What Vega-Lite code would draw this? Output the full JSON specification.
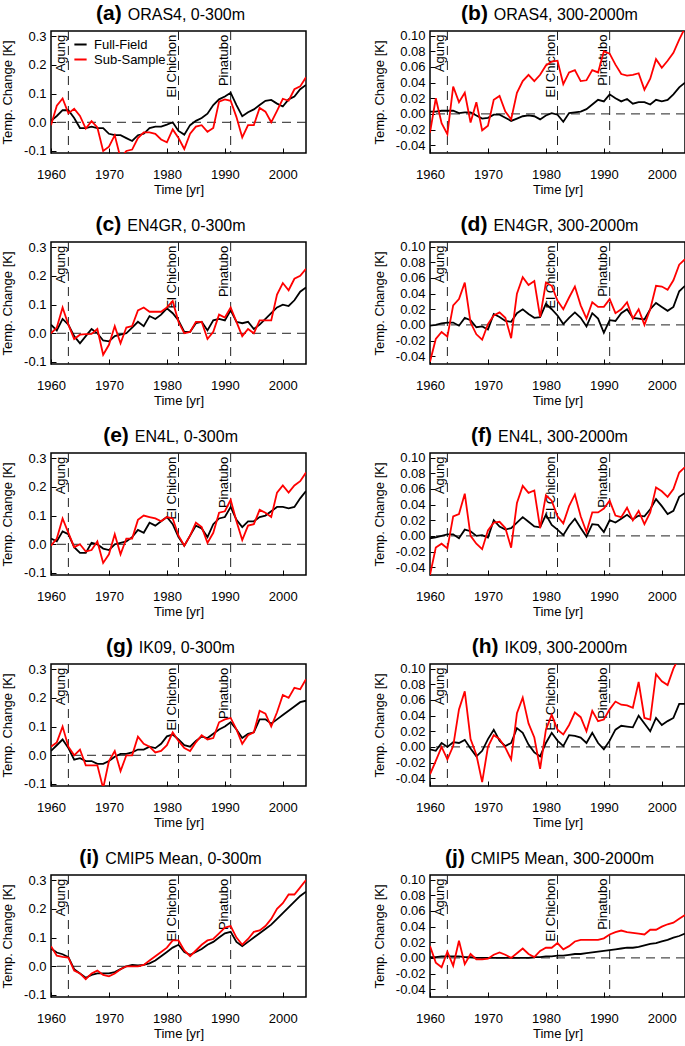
{
"$schema": "https://vega.github.io/schema/vega-lite/v6.json",
"background": "white",
"padding": {"left": 0, "top": 1, "right": 0, "bottom": 0},
"config": {
  "font": "Liberation Sans",
  "locale": {"number": {"decimal": ".", "thousands": ",", "grouping": [3], "currency": ["$", ""], "minus": "-"}},
  "view": {"stroke": "black", "strokeWidth": 1.5},
  "title": {"fontSize": 21, "fontWeight": "bold", "color": "black", "offset": 6, "frame": "group", "subtitleFontSize": 16, "subtitleColor": "black", "subtitleFontWeight": "normal", "subtitlePadding": -17},
  "axis": {"grid": false, "domain": false, "tickSize": -5, "tickColor": "black", "tickWidth": 1, "labelFontSize": 13, "titleFontSize": 13, "titleFontWeight": "normal", "labelColor": "black", "titleColor": "black", "labelFlush": false, "labelOverlap": false},
  "axisX": {"labelPadding": 20, "titlePadding": 2},
  "axisY": {"labelPadding": 10, "titlePadding": 9}
},
"datasets": {
"volc": [{"year": 1963, "name": "Agung"}, {"year": 1982, "name": "El Chichon"}, {"year": 1991, "name": "Pinatubo"}],
"zero": [{"v": 0}],
"a": [
{"year":1960,"Full-Field":0.005,"Sub-Sample":-0.01},{"year":1961,"Full-Field":0.022,"Sub-Sample":0.058},{"year":1962,"Full-Field":0.042,"Sub-Sample":0.083},{"year":1963,"Full-Field":0.042,"Sub-Sample":0.031},{"year":1964,"Full-Field":0.015,"Sub-Sample":0.047},{"year":1965,"Full-Field":-0.02,"Sub-Sample":0.022},{"year":1966,"Full-Field":-0.02,"Sub-Sample":-0.022},{"year":1967,"Full-Field":-0.015,"Sub-Sample":0.004},{"year":1968,"Full-Field":-0.02,"Sub-Sample":-0.018},{"year":1969,"Full-Field":-0.02,"Sub-Sample":-0.1},{"year":1970,"Full-Field":-0.04,"Sub-Sample":-0.085},{"year":1971,"Full-Field":-0.045,"Sub-Sample":-0.045},{"year":1972,"Full-Field":-0.045,"Sub-Sample":-0.125},{"year":1973,"Full-Field":-0.055,"Sub-Sample":-0.1},{"year":1974,"Full-Field":-0.065,"Sub-Sample":-0.095},{"year":1975,"Full-Field":-0.045,"Sub-Sample":-0.055},{"year":1976,"Full-Field":-0.04,"Sub-Sample":-0.035},{"year":1977,"Full-Field":-0.02,"Sub-Sample":-0.035},{"year":1978,"Full-Field":-0.015,"Sub-Sample":-0.04},{"year":1979,"Full-Field":-0.015,"Sub-Sample":-0.06},{"year":1980,"Full-Field":-0.008,"Sub-Sample":-0.07},{"year":1981,"Full-Field":0.0,"Sub-Sample":-0.025},{"year":1982,"Full-Field":-0.03,"Sub-Sample":-0.055},{"year":1983,"Full-Field":-0.043,"Sub-Sample":-0.093},{"year":1984,"Full-Field":-0.01,"Sub-Sample":-0.04},{"year":1985,"Full-Field":0.005,"Sub-Sample":-0.015},{"year":1986,"Full-Field":0.015,"Sub-Sample":-0.01},{"year":1987,"Full-Field":0.03,"Sub-Sample":-0.033},{"year":1988,"Full-Field":0.06,"Sub-Sample":-0.02},{"year":1989,"Full-Field":0.08,"Sub-Sample":0.072},{"year":1990,"Full-Field":0.09,"Sub-Sample":0.08},{"year":1991,"Full-Field":0.103,"Sub-Sample":0.075},{"year":1992,"Full-Field":0.06,"Sub-Sample":0.018},{"year":1993,"Full-Field":0.021,"Sub-Sample":-0.053},{"year":1994,"Full-Field":0.035,"Sub-Sample":-0.01},{"year":1995,"Full-Field":0.045,"Sub-Sample":-0.01},{"year":1996,"Full-Field":0.06,"Sub-Sample":0.05},{"year":1997,"Full-Field":0.075,"Sub-Sample":0.037},{"year":1998,"Full-Field":0.078,"Sub-Sample":0.0},{"year":1999,"Full-Field":0.065,"Sub-Sample":0.04},{"year":2000,"Full-Field":0.055,"Sub-Sample":0.082},{"year":2001,"Full-Field":0.08,"Sub-Sample":0.075},{"year":2002,"Full-Field":0.09,"Sub-Sample":0.115},{"year":2003,"Full-Field":0.115,"Sub-Sample":0.125},{"year":2004,"Full-Field":0.13,"Sub-Sample":0.157}],
"b": [
{"year":1960,"Full-Field":0.003,"Sub-Sample":-0.024},{"year":1961,"Full-Field":0.003,"Sub-Sample":0.02},{"year":1962,"Full-Field":0.004,"Sub-Sample":-0.012},{"year":1963,"Full-Field":0.004,"Sub-Sample":-0.026},{"year":1964,"Full-Field":0.004,"Sub-Sample":0.035},{"year":1965,"Full-Field":0.001,"Sub-Sample":0.015},{"year":1966,"Full-Field":0.002,"Sub-Sample":0.027},{"year":1967,"Full-Field":0.002,"Sub-Sample":-0.011},{"year":1968,"Full-Field":-0.002,"Sub-Sample":0.015},{"year":1969,"Full-Field":-0.006,"Sub-Sample":-0.021},{"year":1970,"Full-Field":-0.005,"Sub-Sample":-0.015},{"year":1971,"Full-Field":-0.001,"Sub-Sample":0.018},{"year":1972,"Full-Field":-0.001,"Sub-Sample":0.023},{"year":1973,"Full-Field":-0.005,"Sub-Sample":0.003},{"year":1974,"Full-Field":-0.009,"Sub-Sample":-0.007},{"year":1975,"Full-Field":-0.006,"Sub-Sample":0.027},{"year":1976,"Full-Field":-0.003,"Sub-Sample":0.042},{"year":1977,"Full-Field":-0.002,"Sub-Sample":0.05},{"year":1978,"Full-Field":-0.003,"Sub-Sample":0.042},{"year":1979,"Full-Field":-0.007,"Sub-Sample":0.05},{"year":1980,"Full-Field":-0.002,"Sub-Sample":0.062},{"year":1981,"Full-Field":0.001,"Sub-Sample":0.067},{"year":1982,"Full-Field":-0.001,"Sub-Sample":0.068},{"year":1983,"Full-Field":-0.01,"Sub-Sample":0.038},{"year":1984,"Full-Field":0.001,"Sub-Sample":0.053},{"year":1985,"Full-Field":0.002,"Sub-Sample":0.056},{"year":1986,"Full-Field":0.003,"Sub-Sample":0.042},{"year":1987,"Full-Field":0.006,"Sub-Sample":0.043},{"year":1988,"Full-Field":0.012,"Sub-Sample":0.056},{"year":1989,"Full-Field":0.018,"Sub-Sample":0.053},{"year":1990,"Full-Field":0.016,"Sub-Sample":0.08},{"year":1991,"Full-Field":0.025,"Sub-Sample":0.077},{"year":1992,"Full-Field":0.02,"Sub-Sample":0.063},{"year":1993,"Full-Field":0.016,"Sub-Sample":0.051},{"year":1994,"Full-Field":0.019,"Sub-Sample":0.049},{"year":1995,"Full-Field":0.013,"Sub-Sample":0.05},{"year":1996,"Full-Field":0.015,"Sub-Sample":0.052},{"year":1997,"Full-Field":0.015,"Sub-Sample":0.031},{"year":1998,"Full-Field":0.012,"Sub-Sample":0.045},{"year":1999,"Full-Field":0.018,"Sub-Sample":0.07},{"year":2000,"Full-Field":0.016,"Sub-Sample":0.059},{"year":2001,"Full-Field":0.018,"Sub-Sample":0.068},{"year":2002,"Full-Field":0.025,"Sub-Sample":0.078},{"year":2003,"Full-Field":0.034,"Sub-Sample":0.095},{"year":2004,"Full-Field":0.04,"Sub-Sample":0.11}],
"c": [
{"year":1960,"Full-Field":0.03,"Sub-Sample":0.0},{"year":1961,"Full-Field":0.01,"Sub-Sample":0.02},{"year":1962,"Full-Field":0.05,"Sub-Sample":0.09},{"year":1963,"Full-Field":0.03,"Sub-Sample":0.03},{"year":1964,"Full-Field":-0.01,"Sub-Sample":-0.02},{"year":1965,"Full-Field":-0.035,"Sub-Sample":-0.005},{"year":1966,"Full-Field":-0.01,"Sub-Sample":-0.003},{"year":1967,"Full-Field":0.015,"Sub-Sample":-0.002},{"year":1968,"Full-Field":0.0,"Sub-Sample":0.015},{"year":1969,"Full-Field":-0.025,"Sub-Sample":-0.075},{"year":1970,"Full-Field":-0.028,"Sub-Sample":-0.04},{"year":1971,"Full-Field":-0.01,"Sub-Sample":0.025},{"year":1972,"Full-Field":-0.005,"Sub-Sample":-0.035},{"year":1973,"Full-Field":0.0,"Sub-Sample":0.02},{"year":1974,"Full-Field":0.02,"Sub-Sample":0.025},{"year":1975,"Full-Field":0.04,"Sub-Sample":0.08},{"year":1976,"Full-Field":0.025,"Sub-Sample":0.09},{"year":1977,"Full-Field":0.06,"Sub-Sample":0.075},{"year":1978,"Full-Field":0.05,"Sub-Sample":0.075},{"year":1979,"Full-Field":0.065,"Sub-Sample":0.075},{"year":1980,"Full-Field":0.087,"Sub-Sample":0.09},{"year":1981,"Full-Field":0.07,"Sub-Sample":0.112},{"year":1982,"Full-Field":0.045,"Sub-Sample":0.04},{"year":1983,"Full-Field":0.005,"Sub-Sample":0.0},{"year":1984,"Full-Field":0.005,"Sub-Sample":0.005},{"year":1985,"Full-Field":0.035,"Sub-Sample":0.04},{"year":1986,"Full-Field":0.04,"Sub-Sample":0.04},{"year":1987,"Full-Field":0.01,"Sub-Sample":-0.02},{"year":1988,"Full-Field":0.045,"Sub-Sample":0.005},{"year":1989,"Full-Field":0.05,"Sub-Sample":0.065},{"year":1990,"Full-Field":0.045,"Sub-Sample":0.055},{"year":1991,"Full-Field":0.08,"Sub-Sample":0.09},{"year":1992,"Full-Field":0.04,"Sub-Sample":0.04},{"year":1993,"Full-Field":0.035,"Sub-Sample":-0.01},{"year":1994,"Full-Field":0.04,"Sub-Sample":0.015},{"year":1995,"Full-Field":0.015,"Sub-Sample":0.0},{"year":1996,"Full-Field":0.03,"Sub-Sample":0.045},{"year":1997,"Full-Field":0.05,"Sub-Sample":0.045},{"year":1998,"Full-Field":0.07,"Sub-Sample":0.045},{"year":1999,"Full-Field":0.09,"Sub-Sample":0.135},{"year":2000,"Full-Field":0.1,"Sub-Sample":0.175},{"year":2001,"Full-Field":0.095,"Sub-Sample":0.15},{"year":2002,"Full-Field":0.115,"Sub-Sample":0.19},{"year":2003,"Full-Field":0.145,"Sub-Sample":0.2},{"year":2004,"Full-Field":0.16,"Sub-Sample":0.225}],
"d": [
{"year":1960,"Full-Field":-0.001,"Sub-Sample":-0.047},{"year":1961,"Full-Field":0.0,"Sub-Sample":-0.018},{"year":1962,"Full-Field":0.002,"Sub-Sample":-0.009},{"year":1963,"Full-Field":0.003,"Sub-Sample":-0.015},{"year":1964,"Full-Field":0.003,"Sub-Sample":0.025},{"year":1965,"Full-Field":-0.001,"Sub-Sample":0.033},{"year":1966,"Full-Field":0.009,"Sub-Sample":0.054},{"year":1967,"Full-Field":0.006,"Sub-Sample":0.003},{"year":1968,"Full-Field":-0.003,"Sub-Sample":-0.012},{"year":1969,"Full-Field":-0.002,"Sub-Sample":-0.019},{"year":1970,"Full-Field":-0.006,"Sub-Sample":0.001},{"year":1971,"Full-Field":0.014,"Sub-Sample":0.012},{"year":1972,"Full-Field":0.01,"Sub-Sample":0.016},{"year":1973,"Full-Field":0.005,"Sub-Sample":0.009},{"year":1974,"Full-Field":0.004,"Sub-Sample":-0.017},{"year":1975,"Full-Field":0.015,"Sub-Sample":0.04},{"year":1976,"Full-Field":0.02,"Sub-Sample":0.061},{"year":1977,"Full-Field":0.014,"Sub-Sample":0.051},{"year":1978,"Full-Field":0.009,"Sub-Sample":0.056},{"year":1979,"Full-Field":0.01,"Sub-Sample":0.01},{"year":1980,"Full-Field":0.027,"Sub-Sample":0.054},{"year":1981,"Full-Field":0.02,"Sub-Sample":0.05},{"year":1982,"Full-Field":0.012,"Sub-Sample":0.031},{"year":1983,"Full-Field":0.001,"Sub-Sample":0.02},{"year":1984,"Full-Field":0.009,"Sub-Sample":0.035},{"year":1985,"Full-Field":0.016,"Sub-Sample":0.049},{"year":1986,"Full-Field":0.009,"Sub-Sample":0.025},{"year":1987,"Full-Field":-0.002,"Sub-Sample":0.008},{"year":1988,"Full-Field":0.015,"Sub-Sample":0.029},{"year":1989,"Full-Field":0.008,"Sub-Sample":0.023},{"year":1990,"Full-Field":-0.01,"Sub-Sample":0.023},{"year":1991,"Full-Field":0.006,"Sub-Sample":0.033},{"year":1992,"Full-Field":0.005,"Sub-Sample":0.015},{"year":1993,"Full-Field":0.015,"Sub-Sample":0.02},{"year":1994,"Full-Field":0.02,"Sub-Sample":0.029},{"year":1995,"Full-Field":0.009,"Sub-Sample":0.008},{"year":1996,"Full-Field":0.008,"Sub-Sample":0.02},{"year":1997,"Full-Field":0.007,"Sub-Sample":0.0},{"year":1998,"Full-Field":0.02,"Sub-Sample":0.02},{"year":1999,"Full-Field":0.028,"Sub-Sample":0.05},{"year":2000,"Full-Field":0.023,"Sub-Sample":0.049},{"year":2001,"Full-Field":0.018,"Sub-Sample":0.045},{"year":2002,"Full-Field":0.023,"Sub-Sample":0.057},{"year":2003,"Full-Field":0.043,"Sub-Sample":0.077},{"year":2004,"Full-Field":0.05,"Sub-Sample":0.084}],
"e": [
{"year":1960,"Full-Field":0.02,"Sub-Sample":-0.005},{"year":1961,"Full-Field":0.01,"Sub-Sample":0.02},{"year":1962,"Full-Field":0.045,"Sub-Sample":0.09},{"year":1963,"Full-Field":0.035,"Sub-Sample":0.04},{"year":1964,"Full-Field":-0.01,"Sub-Sample":-0.01},{"year":1965,"Full-Field":-0.03,"Sub-Sample":0.0},{"year":1966,"Full-Field":-0.03,"Sub-Sample":-0.025},{"year":1967,"Full-Field":0.005,"Sub-Sample":-0.02},{"year":1968,"Full-Field":0.0,"Sub-Sample":0.01},{"year":1969,"Full-Field":-0.015,"Sub-Sample":-0.065},{"year":1970,"Full-Field":-0.02,"Sub-Sample":-0.035},{"year":1971,"Full-Field":0.0,"Sub-Sample":0.035},{"year":1972,"Full-Field":0.005,"Sub-Sample":-0.035},{"year":1973,"Full-Field":0.01,"Sub-Sample":0.02},{"year":1974,"Full-Field":0.025,"Sub-Sample":0.02},{"year":1975,"Full-Field":0.05,"Sub-Sample":0.085},{"year":1976,"Full-Field":0.04,"Sub-Sample":0.1},{"year":1977,"Full-Field":0.075,"Sub-Sample":0.095},{"year":1978,"Full-Field":0.065,"Sub-Sample":0.09},{"year":1979,"Full-Field":0.08,"Sub-Sample":0.08},{"year":1980,"Full-Field":0.095,"Sub-Sample":0.095},{"year":1981,"Full-Field":0.07,"Sub-Sample":0.09},{"year":1982,"Full-Field":0.025,"Sub-Sample":0.03},{"year":1983,"Full-Field":-0.005,"Sub-Sample":-0.005},{"year":1984,"Full-Field":0.03,"Sub-Sample":0.03},{"year":1985,"Full-Field":0.065,"Sub-Sample":0.075},{"year":1986,"Full-Field":0.055,"Sub-Sample":0.06},{"year":1987,"Full-Field":0.025,"Sub-Sample":0.005},{"year":1988,"Full-Field":0.07,"Sub-Sample":0.04},{"year":1989,"Full-Field":0.09,"Sub-Sample":0.11},{"year":1990,"Full-Field":0.095,"Sub-Sample":0.115},{"year":1991,"Full-Field":0.13,"Sub-Sample":0.155},{"year":1992,"Full-Field":0.085,"Sub-Sample":0.08},{"year":1993,"Full-Field":0.06,"Sub-Sample":0.015},{"year":1994,"Full-Field":0.08,"Sub-Sample":0.065},{"year":1995,"Full-Field":0.08,"Sub-Sample":0.07},{"year":1996,"Full-Field":0.095,"Sub-Sample":0.12},{"year":1997,"Full-Field":0.1,"Sub-Sample":0.11},{"year":1998,"Full-Field":0.115,"Sub-Sample":0.095},{"year":1999,"Full-Field":0.13,"Sub-Sample":0.18},{"year":2000,"Full-Field":0.13,"Sub-Sample":0.205},{"year":2001,"Full-Field":0.125,"Sub-Sample":0.18},{"year":2002,"Full-Field":0.13,"Sub-Sample":0.205},{"year":2003,"Full-Field":0.16,"Sub-Sample":0.22},{"year":2004,"Full-Field":0.185,"Sub-Sample":0.25}],
"f": [
{"year":1960,"Full-Field":-0.003,"Sub-Sample":-0.05},{"year":1961,"Full-Field":-0.002,"Sub-Sample":-0.015},{"year":1962,"Full-Field":0.0,"Sub-Sample":-0.01},{"year":1963,"Full-Field":0.002,"Sub-Sample":-0.016},{"year":1964,"Full-Field":0.002,"Sub-Sample":0.025},{"year":1965,"Full-Field":-0.003,"Sub-Sample":0.028},{"year":1966,"Full-Field":0.008,"Sub-Sample":0.054},{"year":1967,"Full-Field":0.006,"Sub-Sample":0.0},{"year":1968,"Full-Field":0.0,"Sub-Sample":-0.01},{"year":1969,"Full-Field":0.001,"Sub-Sample":-0.017},{"year":1970,"Full-Field":-0.002,"Sub-Sample":0.007},{"year":1971,"Full-Field":0.02,"Sub-Sample":0.017},{"year":1972,"Full-Field":0.012,"Sub-Sample":0.018},{"year":1973,"Full-Field":0.008,"Sub-Sample":0.01},{"year":1974,"Full-Field":0.01,"Sub-Sample":-0.015},{"year":1975,"Full-Field":0.017,"Sub-Sample":0.042},{"year":1976,"Full-Field":0.024,"Sub-Sample":0.064},{"year":1977,"Full-Field":0.018,"Sub-Sample":0.055},{"year":1978,"Full-Field":0.012,"Sub-Sample":0.058},{"year":1979,"Full-Field":0.011,"Sub-Sample":0.01},{"year":1980,"Full-Field":0.027,"Sub-Sample":0.052},{"year":1981,"Full-Field":0.014,"Sub-Sample":0.045},{"year":1982,"Full-Field":0.008,"Sub-Sample":0.025},{"year":1983,"Full-Field":0.001,"Sub-Sample":0.016},{"year":1984,"Full-Field":0.013,"Sub-Sample":0.038},{"year":1985,"Full-Field":0.022,"Sub-Sample":0.053},{"year":1986,"Full-Field":0.01,"Sub-Sample":0.025},{"year":1987,"Full-Field":-0.001,"Sub-Sample":0.005},{"year":1988,"Full-Field":0.015,"Sub-Sample":0.03},{"year":1989,"Full-Field":0.014,"Sub-Sample":0.03},{"year":1990,"Full-Field":0.005,"Sub-Sample":0.035},{"year":1991,"Full-Field":0.02,"Sub-Sample":0.045},{"year":1992,"Full-Field":0.017,"Sub-Sample":0.026},{"year":1993,"Full-Field":0.022,"Sub-Sample":0.024},{"year":1994,"Full-Field":0.027,"Sub-Sample":0.036},{"year":1995,"Full-Field":0.021,"Sub-Sample":0.02},{"year":1996,"Full-Field":0.026,"Sub-Sample":0.032},{"year":1997,"Full-Field":0.025,"Sub-Sample":0.015},{"year":1998,"Full-Field":0.034,"Sub-Sample":0.03},{"year":1999,"Full-Field":0.047,"Sub-Sample":0.062},{"year":2000,"Full-Field":0.038,"Sub-Sample":0.057},{"year":2001,"Full-Field":0.028,"Sub-Sample":0.05},{"year":2002,"Full-Field":0.032,"Sub-Sample":0.06},{"year":2003,"Full-Field":0.05,"Sub-Sample":0.081},{"year":2004,"Full-Field":0.055,"Sub-Sample":0.088}],
"g": [
{"year":1960,"Full-Field":0.015,"Sub-Sample":0.03},{"year":1961,"Full-Field":0.035,"Sub-Sample":0.045},{"year":1962,"Full-Field":0.055,"Sub-Sample":0.1},{"year":1963,"Full-Field":0.025,"Sub-Sample":0.03},{"year":1964,"Full-Field":-0.015,"Sub-Sample":0.0},{"year":1965,"Full-Field":-0.01,"Sub-Sample":0.02},{"year":1966,"Full-Field":-0.02,"Sub-Sample":-0.035},{"year":1967,"Full-Field":-0.02,"Sub-Sample":-0.035},{"year":1968,"Full-Field":-0.03,"Sub-Sample":-0.035},{"year":1969,"Full-Field":-0.03,"Sub-Sample":-0.115},{"year":1970,"Full-Field":-0.02,"Sub-Sample":-0.02},{"year":1971,"Full-Field":-0.005,"Sub-Sample":0.015},{"year":1972,"Full-Field":0.005,"Sub-Sample":-0.055},{"year":1973,"Full-Field":0.005,"Sub-Sample":0.0},{"year":1974,"Full-Field":0.01,"Sub-Sample":0.0},{"year":1975,"Full-Field":0.02,"Sub-Sample":0.065},{"year":1976,"Full-Field":0.02,"Sub-Sample":0.04},{"year":1977,"Full-Field":0.03,"Sub-Sample":0.03},{"year":1978,"Full-Field":0.025,"Sub-Sample":0.01},{"year":1979,"Full-Field":0.04,"Sub-Sample":0.015},{"year":1980,"Full-Field":0.066,"Sub-Sample":0.035},{"year":1981,"Full-Field":0.072,"Sub-Sample":0.08},{"year":1982,"Full-Field":0.055,"Sub-Sample":0.05},{"year":1983,"Full-Field":0.035,"Sub-Sample":0.025},{"year":1984,"Full-Field":0.03,"Sub-Sample":0.015},{"year":1985,"Full-Field":0.05,"Sub-Sample":0.045},{"year":1986,"Full-Field":0.065,"Sub-Sample":0.07},{"year":1987,"Full-Field":0.06,"Sub-Sample":0.055},{"year":1988,"Full-Field":0.075,"Sub-Sample":0.06},{"year":1989,"Full-Field":0.09,"Sub-Sample":0.115},{"year":1990,"Full-Field":0.1,"Sub-Sample":0.125},{"year":1991,"Full-Field":0.115,"Sub-Sample":0.13},{"year":1992,"Full-Field":0.09,"Sub-Sample":0.09},{"year":1993,"Full-Field":0.06,"Sub-Sample":0.04},{"year":1994,"Full-Field":0.075,"Sub-Sample":0.07},{"year":1995,"Full-Field":0.08,"Sub-Sample":0.08},{"year":1996,"Full-Field":0.125,"Sub-Sample":0.155},{"year":1997,"Full-Field":0.125,"Sub-Sample":0.145},{"year":1998,"Full-Field":0.11,"Sub-Sample":0.1},{"year":1999,"Full-Field":0.125,"Sub-Sample":0.15},{"year":2000,"Full-Field":0.14,"Sub-Sample":0.21},{"year":2001,"Full-Field":0.155,"Sub-Sample":0.2},{"year":2002,"Full-Field":0.17,"Sub-Sample":0.235},{"year":2003,"Full-Field":0.185,"Sub-Sample":0.23},{"year":2004,"Full-Field":0.19,"Sub-Sample":0.265}],
"h": [
{"year":1960,"Full-Field":-0.003,"Sub-Sample":-0.035},{"year":1961,"Full-Field":-0.005,"Sub-Sample":-0.018},{"year":1962,"Full-Field":0.005,"Sub-Sample":0.0},{"year":1963,"Full-Field":0.0,"Sub-Sample":-0.016},{"year":1964,"Full-Field":0.006,"Sub-Sample":0.001},{"year":1965,"Full-Field":0.005,"Sub-Sample":0.048},{"year":1966,"Full-Field":0.009,"Sub-Sample":0.071},{"year":1967,"Full-Field":-0.002,"Sub-Sample":0.01},{"year":1968,"Full-Field":-0.012,"Sub-Sample":-0.01},{"year":1969,"Full-Field":-0.005,"Sub-Sample":-0.045},{"year":1970,"Full-Field":0.01,"Sub-Sample":0.0},{"year":1971,"Full-Field":0.022,"Sub-Sample":0.015},{"year":1972,"Full-Field":0.008,"Sub-Sample":0.01},{"year":1973,"Full-Field":0.001,"Sub-Sample":-0.001},{"year":1974,"Full-Field":0.005,"Sub-Sample":-0.016},{"year":1975,"Full-Field":0.024,"Sub-Sample":0.043},{"year":1976,"Full-Field":0.018,"Sub-Sample":0.063},{"year":1977,"Full-Field":0.003,"Sub-Sample":0.03},{"year":1978,"Full-Field":-0.007,"Sub-Sample":0.012},{"year":1979,"Full-Field":-0.012,"Sub-Sample":-0.028},{"year":1980,"Full-Field":0.005,"Sub-Sample":0.022},{"year":1981,"Full-Field":0.018,"Sub-Sample":0.041},{"year":1982,"Full-Field":0.008,"Sub-Sample":0.022},{"year":1983,"Full-Field":0.001,"Sub-Sample":0.016},{"year":1984,"Full-Field":0.015,"Sub-Sample":0.028},{"year":1985,"Full-Field":0.014,"Sub-Sample":0.044},{"year":1986,"Full-Field":0.012,"Sub-Sample":0.038},{"year":1987,"Full-Field":0.005,"Sub-Sample":0.02},{"year":1988,"Full-Field":0.018,"Sub-Sample":0.046},{"year":1989,"Full-Field":0.005,"Sub-Sample":0.033},{"year":1990,"Full-Field":-0.003,"Sub-Sample":0.035},{"year":1991,"Full-Field":0.008,"Sub-Sample":0.048},{"year":1992,"Full-Field":0.022,"Sub-Sample":0.058},{"year":1993,"Full-Field":0.027,"Sub-Sample":0.054},{"year":1994,"Full-Field":0.026,"Sub-Sample":0.053},{"year":1995,"Full-Field":0.025,"Sub-Sample":0.05},{"year":1996,"Full-Field":0.04,"Sub-Sample":0.083},{"year":1997,"Full-Field":0.03,"Sub-Sample":0.037},{"year":1998,"Full-Field":0.02,"Sub-Sample":0.035},{"year":1999,"Full-Field":0.037,"Sub-Sample":0.093},{"year":2000,"Full-Field":0.028,"Sub-Sample":0.084},{"year":2001,"Full-Field":0.033,"Sub-Sample":0.079},{"year":2002,"Full-Field":0.037,"Sub-Sample":0.1},{"year":2003,"Full-Field":0.055,"Sub-Sample":0.115},{"year":2004,"Full-Field":0.055,"Sub-Sample":0.12}],
"i": [
{"year":1960,"Full-Field":0.062,"Sub-Sample":0.07},{"year":1961,"Full-Field":0.048,"Sub-Sample":0.037},{"year":1962,"Full-Field":0.042,"Sub-Sample":0.033},{"year":1963,"Full-Field":0.032,"Sub-Sample":0.03},{"year":1964,"Full-Field":-0.01,"Sub-Sample":-0.015},{"year":1965,"Full-Field":-0.025,"Sub-Sample":-0.025},{"year":1966,"Full-Field":-0.04,"Sub-Sample":-0.045},{"year":1967,"Full-Field":-0.03,"Sub-Sample":-0.025},{"year":1968,"Full-Field":-0.025,"Sub-Sample":-0.015},{"year":1969,"Full-Field":-0.025,"Sub-Sample":-0.03},{"year":1970,"Full-Field":-0.025,"Sub-Sample":-0.035},{"year":1971,"Full-Field":-0.02,"Sub-Sample":-0.025},{"year":1972,"Full-Field":-0.01,"Sub-Sample":-0.01},{"year":1973,"Full-Field":0.0,"Sub-Sample":0.0},{"year":1974,"Full-Field":0.005,"Sub-Sample":0.0},{"year":1975,"Full-Field":0.003,"Sub-Sample":0.0},{"year":1976,"Full-Field":0.005,"Sub-Sample":0.005},{"year":1977,"Full-Field":0.01,"Sub-Sample":0.02},{"year":1978,"Full-Field":0.02,"Sub-Sample":0.035},{"year":1979,"Full-Field":0.035,"Sub-Sample":0.05},{"year":1980,"Full-Field":0.05,"Sub-Sample":0.065},{"year":1981,"Full-Field":0.065,"Sub-Sample":0.09},{"year":1982,"Full-Field":0.075,"Sub-Sample":0.09},{"year":1983,"Full-Field":0.05,"Sub-Sample":0.055},{"year":1984,"Full-Field":0.04,"Sub-Sample":0.035},{"year":1985,"Full-Field":0.05,"Sub-Sample":0.055},{"year":1986,"Full-Field":0.06,"Sub-Sample":0.075},{"year":1987,"Full-Field":0.075,"Sub-Sample":0.09},{"year":1988,"Full-Field":0.085,"Sub-Sample":0.095},{"year":1989,"Full-Field":0.1,"Sub-Sample":0.115},{"year":1990,"Full-Field":0.115,"Sub-Sample":0.135},{"year":1991,"Full-Field":0.12,"Sub-Sample":0.14},{"year":1992,"Full-Field":0.085,"Sub-Sample":0.1},{"year":1993,"Full-Field":0.07,"Sub-Sample":0.075},{"year":1994,"Full-Field":0.085,"Sub-Sample":0.095},{"year":1995,"Full-Field":0.1,"Sub-Sample":0.12},{"year":1996,"Full-Field":0.115,"Sub-Sample":0.125},{"year":1997,"Full-Field":0.13,"Sub-Sample":0.14},{"year":1998,"Full-Field":0.145,"Sub-Sample":0.165},{"year":1999,"Full-Field":0.165,"Sub-Sample":0.2},{"year":2000,"Full-Field":0.185,"Sub-Sample":0.22},{"year":2001,"Full-Field":0.205,"Sub-Sample":0.25},{"year":2002,"Full-Field":0.225,"Sub-Sample":0.25},{"year":2003,"Full-Field":0.245,"Sub-Sample":0.275},{"year":2004,"Full-Field":0.26,"Sub-Sample":0.3}],
"j": [
{"year":1960,"Full-Field":0.001,"Sub-Sample":0.015},{"year":1961,"Full-Field":0.001,"Sub-Sample":-0.006},{"year":1962,"Full-Field":0.002,"Sub-Sample":-0.012},{"year":1963,"Full-Field":0.002,"Sub-Sample":0.008},{"year":1964,"Full-Field":0.002,"Sub-Sample":-0.01},{"year":1965,"Full-Field":0.002,"Sub-Sample":0.022},{"year":1966,"Full-Field":0.001,"Sub-Sample":-0.008},{"year":1967,"Full-Field":0.001,"Sub-Sample":0.005},{"year":1968,"Full-Field":0.0,"Sub-Sample":-0.002},{"year":1969,"Full-Field":0.0,"Sub-Sample":-0.002},{"year":1970,"Full-Field":0.0,"Sub-Sample":-0.001},{"year":1971,"Full-Field":0.0,"Sub-Sample":0.004},{"year":1972,"Full-Field":0.0,"Sub-Sample":0.007},{"year":1973,"Full-Field":0.0,"Sub-Sample":0.004},{"year":1974,"Full-Field":0.0,"Sub-Sample":0.0},{"year":1975,"Full-Field":0.0,"Sub-Sample":0.006},{"year":1976,"Full-Field":0.0,"Sub-Sample":0.012},{"year":1977,"Full-Field":0.0,"Sub-Sample":0.005},{"year":1978,"Full-Field":0.001,"Sub-Sample":0.001},{"year":1979,"Full-Field":0.001,"Sub-Sample":0.009},{"year":1980,"Full-Field":0.002,"Sub-Sample":0.013},{"year":1981,"Full-Field":0.002,"Sub-Sample":0.013},{"year":1982,"Full-Field":0.003,"Sub-Sample":0.019},{"year":1983,"Full-Field":0.003,"Sub-Sample":0.011},{"year":1984,"Full-Field":0.004,"Sub-Sample":0.015},{"year":1985,"Full-Field":0.005,"Sub-Sample":0.021},{"year":1986,"Full-Field":0.005,"Sub-Sample":0.023},{"year":1987,"Full-Field":0.006,"Sub-Sample":0.023},{"year":1988,"Full-Field":0.007,"Sub-Sample":0.023},{"year":1989,"Full-Field":0.008,"Sub-Sample":0.023},{"year":1990,"Full-Field":0.009,"Sub-Sample":0.025},{"year":1991,"Full-Field":0.01,"Sub-Sample":0.03},{"year":1992,"Full-Field":0.011,"Sub-Sample":0.033},{"year":1993,"Full-Field":0.012,"Sub-Sample":0.035},{"year":1994,"Full-Field":0.013,"Sub-Sample":0.033},{"year":1995,"Full-Field":0.013,"Sub-Sample":0.032},{"year":1996,"Full-Field":0.014,"Sub-Sample":0.031},{"year":1997,"Full-Field":0.016,"Sub-Sample":0.03},{"year":1998,"Full-Field":0.018,"Sub-Sample":0.036},{"year":1999,"Full-Field":0.019,"Sub-Sample":0.036},{"year":2000,"Full-Field":0.021,"Sub-Sample":0.04},{"year":2001,"Full-Field":0.023,"Sub-Sample":0.043},{"year":2002,"Full-Field":0.026,"Sub-Sample":0.045},{"year":2003,"Full-Field":0.028,"Sub-Sample":0.05},{"year":2004,"Full-Field":0.031,"Sub-Sample":0.055}]
},
"columns": 2,
"align": "each",
"spacing": {"row": 15, "column": 64},
"resolve": {"scale": {"color": "independent", "x": "independent", "y": "independent"}, "legend": {"color": "independent"}},
"concat": [
{"title": {"text": "(a)", "subtitle": "ORAS4, 0-300m", "dx": 7.9, "encoding": {"dx": {"value": -69.7}}}, "width": 255, "height": 122, "layer": [
 {"data": {"name": "volc"}, "mark": {"type": "rule", "strokeDash": [9, 6], "strokeWidth": 1, "color": "#222"}, "encoding": {"x": {"field": "year", "type": "quantitative", "scale": {"domain": [1960, 2004], "nice": false, "zero": false}}}},
 {"data": {"name": "volc"}, "mark": {"type": "text", "angle": 270, "align": "right", "baseline": "bottom", "fontSize": 13, "color": "black"}, "encoding": {"x": {"field": "year", "type": "quantitative", "scale": {"domain": [1960, 2004], "nice": false, "zero": false}}, "y": {"datum": 0.305, "type": "quantitative", "scale": {"domain": [-0.107, 0.318], "nice": false, "zero": false}}, "text": {"field": "name"}}},
 {"data": {"name": "zero"}, "mark": {"type": "rule", "strokeDash": [9, 6], "strokeWidth": 1, "color": "#222"}, "encoding": {"y": {"field": "v", "type": "quantitative", "scale": {"domain": [-0.107, 0.318], "nice": false, "zero": false}}}},
 {"data": {"name": "a"}, "transform": [{"fold": ["Full-Field", "Sub-Sample"], "as": ["series", "v"]}], "mark": {"type": "line", "strokeWidth": 1.8, "clip": true},
  "encoding": {
   "x": {"field": "year", "type": "quantitative", "scale": {"domain": [1960, 2004], "nice": false, "zero": false}, "axis": {"title": "Time [yr]", "values": [1960, 1970, 1980, 1990, 2000], "tickCount": 20, "format": "d", "labelFlush": false, "labelOverlap": false}},
   "y": {"field": "v", "type": "quantitative", "scale": {"domain": [-0.107, 0.318], "nice": false, "zero": false}, "axis": {"title": "Temp. Change [K]", "values": [-0.1, 0, 0.1, 0.2, 0.3], "tickCount": 20, "format": ".1f", "labelFlush": false, "labelOverlap": false}},
   "color": {"field": "series", "type": "nominal", "scale": {"domain": ["Full-Field", "Sub-Sample"], "range": ["black", "red"]}, "legend": {"orient": "none", "legendX": 22, "legendY": 6, "title": null, "symbolType": "stroke", "symbolStrokeWidth": 2, "symbolSize": 150, "labelFontSize": 13, "rowPadding": -1, "labelOffset": 6, "padding": 0, "labelColor": "black"}}
  }}
]},
{"title": {"text": "(b)", "subtitle": "ORAS4, 300-2000m", "dx": 8.4, "encoding": {"dx": {"value": -83}}}, "width": 255, "height": 122, "layer": [
 {"data": {"name": "volc"}, "mark": {"type": "rule", "strokeDash": [9, 6], "strokeWidth": 1, "color": "#222"}, "encoding": {"x": {"field": "year", "type": "quantitative", "scale": {"domain": [1960, 2004], "nice": false, "zero": false}}}},
 {"data": {"name": "volc"}, "mark": {"type": "text", "angle": 270, "align": "right", "baseline": "bottom", "fontSize": 13, "color": "black"}, "encoding": {"x": {"field": "year", "type": "quantitative", "scale": {"domain": [1960, 2004], "nice": false, "zero": false}}, "y": {"datum": 0.1015, "type": "quantitative", "scale": {"domain": [-0.05, 0.106], "nice": false, "zero": false}}, "text": {"field": "name"}}},
 {"data": {"name": "zero"}, "mark": {"type": "rule", "strokeDash": [9, 6], "strokeWidth": 1, "color": "#222"}, "encoding": {"y": {"field": "v", "type": "quantitative", "scale": {"domain": [-0.05, 0.106], "nice": false, "zero": false}}}},
 {"data": {"name": "b"}, "transform": [{"fold": ["Full-Field", "Sub-Sample"], "as": ["series", "v"]}], "mark": {"type": "line", "strokeWidth": 1.8, "clip": true},
  "encoding": {
   "x": {"field": "year", "type": "quantitative", "scale": {"domain": [1960, 2004], "nice": false, "zero": false}, "axis": {"title": "Time [yr]", "values": [1960, 1970, 1980, 1990, 2000], "tickCount": 20, "format": "d", "labelFlush": false, "labelOverlap": false}},
   "y": {"field": "v", "type": "quantitative", "scale": {"domain": [-0.05, 0.106], "nice": false, "zero": false}, "axis": {"title": "Temp. Change [K]", "values": [-0.04, -0.02, 0, 0.02, 0.04, 0.06, 0.08, 0.1], "tickCount": 20, "format": ".2f", "labelFlush": false, "labelOverlap": false}},
   "color": {"field": "series", "type": "nominal", "scale": {"domain": ["Full-Field", "Sub-Sample"], "range": ["black", "red"]}, "legend": null}
  }}
]},
{"title": {"text": "(c)", "subtitle": "EN4GR, 0-300m", "dx": 7.9, "encoding": {"dx": {"value": -70.2}}}, "width": 255, "height": 122, "layer": [
 {"data": {"name": "volc"}, "mark": {"type": "rule", "strokeDash": [9, 6], "strokeWidth": 1, "color": "#222"}, "encoding": {"x": {"field": "year", "type": "quantitative", "scale": {"domain": [1960, 2004], "nice": false, "zero": false}}}},
 {"data": {"name": "volc"}, "mark": {"type": "text", "angle": 270, "align": "right", "baseline": "bottom", "fontSize": 13, "color": "black"}, "encoding": {"x": {"field": "year", "type": "quantitative", "scale": {"domain": [1960, 2004], "nice": false, "zero": false}}, "y": {"datum": 0.305, "type": "quantitative", "scale": {"domain": [-0.107, 0.318], "nice": false, "zero": false}}, "text": {"field": "name"}}},
 {"data": {"name": "zero"}, "mark": {"type": "rule", "strokeDash": [9, 6], "strokeWidth": 1, "color": "#222"}, "encoding": {"y": {"field": "v", "type": "quantitative", "scale": {"domain": [-0.107, 0.318], "nice": false, "zero": false}}}},
 {"data": {"name": "c"}, "transform": [{"fold": ["Full-Field", "Sub-Sample"], "as": ["series", "v"]}], "mark": {"type": "line", "strokeWidth": 1.8, "clip": true},
  "encoding": {
   "x": {"field": "year", "type": "quantitative", "scale": {"domain": [1960, 2004], "nice": false, "zero": false}, "axis": {"title": "Time [yr]", "values": [1960, 1970, 1980, 1990, 2000], "tickCount": 20, "format": "d", "labelFlush": false, "labelOverlap": false}},
   "y": {"field": "v", "type": "quantitative", "scale": {"domain": [-0.107, 0.318], "nice": false, "zero": false}, "axis": {"title": "Temp. Change [K]", "values": [-0.1, 0, 0.1, 0.2, 0.3], "tickCount": 20, "format": ".1f", "labelFlush": false, "labelOverlap": false}},
   "color": {"field": "series", "type": "nominal", "scale": {"domain": ["Full-Field", "Sub-Sample"], "range": ["black", "red"]}, "legend": null}
  }}
]},
{"title": {"text": "(d)", "subtitle": "EN4GR, 300-2000m", "dx": 8.4, "encoding": {"dx": {"value": -83.5}}}, "width": 255, "height": 122, "layer": [
 {"data": {"name": "volc"}, "mark": {"type": "rule", "strokeDash": [9, 6], "strokeWidth": 1, "color": "#222"}, "encoding": {"x": {"field": "year", "type": "quantitative", "scale": {"domain": [1960, 2004], "nice": false, "zero": false}}}},
 {"data": {"name": "volc"}, "mark": {"type": "text", "angle": 270, "align": "right", "baseline": "bottom", "fontSize": 13, "color": "black"}, "encoding": {"x": {"field": "year", "type": "quantitative", "scale": {"domain": [1960, 2004], "nice": false, "zero": false}}, "y": {"datum": 0.1015, "type": "quantitative", "scale": {"domain": [-0.05, 0.106], "nice": false, "zero": false}}, "text": {"field": "name"}}},
 {"data": {"name": "zero"}, "mark": {"type": "rule", "strokeDash": [9, 6], "strokeWidth": 1, "color": "#222"}, "encoding": {"y": {"field": "v", "type": "quantitative", "scale": {"domain": [-0.05, 0.106], "nice": false, "zero": false}}}},
 {"data": {"name": "d"}, "transform": [{"fold": ["Full-Field", "Sub-Sample"], "as": ["series", "v"]}], "mark": {"type": "line", "strokeWidth": 1.8, "clip": true},
  "encoding": {
   "x": {"field": "year", "type": "quantitative", "scale": {"domain": [1960, 2004], "nice": false, "zero": false}, "axis": {"title": "Time [yr]", "values": [1960, 1970, 1980, 1990, 2000], "tickCount": 20, "format": "d", "labelFlush": false, "labelOverlap": false}},
   "y": {"field": "v", "type": "quantitative", "scale": {"domain": [-0.05, 0.106], "nice": false, "zero": false}, "axis": {"title": "Temp. Change [K]", "values": [-0.04, -0.02, 0, 0.02, 0.04, 0.06, 0.08, 0.1], "tickCount": 20, "format": ".2f", "labelFlush": false, "labelOverlap": false}},
   "color": {"field": "series", "type": "nominal", "scale": {"domain": ["Full-Field", "Sub-Sample"], "range": ["black", "red"]}, "legend": null}
  }}
]},
{"title": {"text": "(e)", "subtitle": "EN4L, 0-300m", "dx": 7.9, "encoding": {"dx": {"value": -62.5}}}, "width": 255, "height": 122, "layer": [
 {"data": {"name": "volc"}, "mark": {"type": "rule", "strokeDash": [9, 6], "strokeWidth": 1, "color": "#222"}, "encoding": {"x": {"field": "year", "type": "quantitative", "scale": {"domain": [1960, 2004], "nice": false, "zero": false}}}},
 {"data": {"name": "volc"}, "mark": {"type": "text", "angle": 270, "align": "right", "baseline": "bottom", "fontSize": 13, "color": "black"}, "encoding": {"x": {"field": "year", "type": "quantitative", "scale": {"domain": [1960, 2004], "nice": false, "zero": false}}, "y": {"datum": 0.305, "type": "quantitative", "scale": {"domain": [-0.107, 0.318], "nice": false, "zero": false}}, "text": {"field": "name"}}},
 {"data": {"name": "zero"}, "mark": {"type": "rule", "strokeDash": [9, 6], "strokeWidth": 1, "color": "#222"}, "encoding": {"y": {"field": "v", "type": "quantitative", "scale": {"domain": [-0.107, 0.318], "nice": false, "zero": false}}}},
 {"data": {"name": "e"}, "transform": [{"fold": ["Full-Field", "Sub-Sample"], "as": ["series", "v"]}], "mark": {"type": "line", "strokeWidth": 1.8, "clip": true},
  "encoding": {
   "x": {"field": "year", "type": "quantitative", "scale": {"domain": [1960, 2004], "nice": false, "zero": false}, "axis": {"title": "Time [yr]", "values": [1960, 1970, 1980, 1990, 2000], "tickCount": 20, "format": "d", "labelFlush": false, "labelOverlap": false}},
   "y": {"field": "v", "type": "quantitative", "scale": {"domain": [-0.107, 0.318], "nice": false, "zero": false}, "axis": {"title": "Temp. Change [K]", "values": [-0.1, 0, 0.1, 0.2, 0.3], "tickCount": 20, "format": ".1f", "labelFlush": false, "labelOverlap": false}},
   "color": {"field": "series", "type": "nominal", "scale": {"domain": ["Full-Field", "Sub-Sample"], "range": ["black", "red"]}, "legend": null}
  }}
]},
{"title": {"text": "(f)", "subtitle": "EN4L, 300-2000m", "dx": 5.5, "encoding": {"dx": {"value": -76}}}, "width": 255, "height": 122, "layer": [
 {"data": {"name": "volc"}, "mark": {"type": "rule", "strokeDash": [9, 6], "strokeWidth": 1, "color": "#222"}, "encoding": {"x": {"field": "year", "type": "quantitative", "scale": {"domain": [1960, 2004], "nice": false, "zero": false}}}},
 {"data": {"name": "volc"}, "mark": {"type": "text", "angle": 270, "align": "right", "baseline": "bottom", "fontSize": 13, "color": "black"}, "encoding": {"x": {"field": "year", "type": "quantitative", "scale": {"domain": [1960, 2004], "nice": false, "zero": false}}, "y": {"datum": 0.1015, "type": "quantitative", "scale": {"domain": [-0.05, 0.106], "nice": false, "zero": false}}, "text": {"field": "name"}}},
 {"data": {"name": "zero"}, "mark": {"type": "rule", "strokeDash": [9, 6], "strokeWidth": 1, "color": "#222"}, "encoding": {"y": {"field": "v", "type": "quantitative", "scale": {"domain": [-0.05, 0.106], "nice": false, "zero": false}}}},
 {"data": {"name": "f"}, "transform": [{"fold": ["Full-Field", "Sub-Sample"], "as": ["series", "v"]}], "mark": {"type": "line", "strokeWidth": 1.8, "clip": true},
  "encoding": {
   "x": {"field": "year", "type": "quantitative", "scale": {"domain": [1960, 2004], "nice": false, "zero": false}, "axis": {"title": "Time [yr]", "values": [1960, 1970, 1980, 1990, 2000], "tickCount": 20, "format": "d", "labelFlush": false, "labelOverlap": false}},
   "y": {"field": "v", "type": "quantitative", "scale": {"domain": [-0.05, 0.106], "nice": false, "zero": false}, "axis": {"title": "Temp. Change [K]", "values": [-0.04, -0.02, 0, 0.02, 0.04, 0.06, 0.08, 0.1], "tickCount": 20, "format": ".2f", "labelFlush": false, "labelOverlap": false}},
   "color": {"field": "series", "type": "nominal", "scale": {"domain": ["Full-Field", "Sub-Sample"], "range": ["black", "red"]}, "legend": null}
  }}
]},
{"title": {"text": "(g)", "subtitle": "IK09, 0-300m", "dx": 8.4, "encoding": {"dx": {"value": -59}}}, "width": 255, "height": 122, "layer": [
 {"data": {"name": "volc"}, "mark": {"type": "rule", "strokeDash": [9, 6], "strokeWidth": 1, "color": "#222"}, "encoding": {"x": {"field": "year", "type": "quantitative", "scale": {"domain": [1960, 2004], "nice": false, "zero": false}}}},
 {"data": {"name": "volc"}, "mark": {"type": "text", "angle": 270, "align": "right", "baseline": "bottom", "fontSize": 13, "color": "black"}, "encoding": {"x": {"field": "year", "type": "quantitative", "scale": {"domain": [1960, 2004], "nice": false, "zero": false}}, "y": {"datum": 0.305, "type": "quantitative", "scale": {"domain": [-0.107, 0.318], "nice": false, "zero": false}}, "text": {"field": "name"}}},
 {"data": {"name": "zero"}, "mark": {"type": "rule", "strokeDash": [9, 6], "strokeWidth": 1, "color": "#222"}, "encoding": {"y": {"field": "v", "type": "quantitative", "scale": {"domain": [-0.107, 0.318], "nice": false, "zero": false}}}},
 {"data": {"name": "g"}, "transform": [{"fold": ["Full-Field", "Sub-Sample"], "as": ["series", "v"]}], "mark": {"type": "line", "strokeWidth": 1.8, "clip": true},
  "encoding": {
   "x": {"field": "year", "type": "quantitative", "scale": {"domain": [1960, 2004], "nice": false, "zero": false}, "axis": {"title": "Time [yr]", "values": [1960, 1970, 1980, 1990, 2000], "tickCount": 20, "format": "d", "labelFlush": false, "labelOverlap": false}},
   "y": {"field": "v", "type": "quantitative", "scale": {"domain": [-0.107, 0.318], "nice": false, "zero": false}, "axis": {"title": "Temp. Change [K]", "values": [-0.1, 0, 0.1, 0.2, 0.3], "tickCount": 20, "format": ".1f", "labelFlush": false, "labelOverlap": false}},
   "color": {"field": "series", "type": "nominal", "scale": {"domain": ["Full-Field", "Sub-Sample"], "range": ["black", "red"]}, "legend": null}
  }}
]},
{"title": {"text": "(h)", "subtitle": "IK09, 300-2000m", "dx": 8.4, "encoding": {"dx": {"value": -72.4}}}, "width": 255, "height": 122, "layer": [
 {"data": {"name": "volc"}, "mark": {"type": "rule", "strokeDash": [9, 6], "strokeWidth": 1, "color": "#222"}, "encoding": {"x": {"field": "year", "type": "quantitative", "scale": {"domain": [1960, 2004], "nice": false, "zero": false}}}},
 {"data": {"name": "volc"}, "mark": {"type": "text", "angle": 270, "align": "right", "baseline": "bottom", "fontSize": 13, "color": "black"}, "encoding": {"x": {"field": "year", "type": "quantitative", "scale": {"domain": [1960, 2004], "nice": false, "zero": false}}, "y": {"datum": 0.1015, "type": "quantitative", "scale": {"domain": [-0.05, 0.106], "nice": false, "zero": false}}, "text": {"field": "name"}}},
 {"data": {"name": "zero"}, "mark": {"type": "rule", "strokeDash": [9, 6], "strokeWidth": 1, "color": "#222"}, "encoding": {"y": {"field": "v", "type": "quantitative", "scale": {"domain": [-0.05, 0.106], "nice": false, "zero": false}}}},
 {"data": {"name": "h"}, "transform": [{"fold": ["Full-Field", "Sub-Sample"], "as": ["series", "v"]}], "mark": {"type": "line", "strokeWidth": 1.8, "clip": true},
  "encoding": {
   "x": {"field": "year", "type": "quantitative", "scale": {"domain": [1960, 2004], "nice": false, "zero": false}, "axis": {"title": "Time [yr]", "values": [1960, 1970, 1980, 1990, 2000], "tickCount": 20, "format": "d", "labelFlush": false, "labelOverlap": false}},
   "y": {"field": "v", "type": "quantitative", "scale": {"domain": [-0.05, 0.106], "nice": false, "zero": false}, "axis": {"title": "Temp. Change [K]", "values": [-0.04, -0.02, 0, 0.02, 0.04, 0.06, 0.08, 0.1], "tickCount": 20, "format": ".2f", "labelFlush": false, "labelOverlap": false}},
   "color": {"field": "series", "type": "nominal", "scale": {"domain": ["Full-Field", "Sub-Sample"], "range": ["black", "red"]}, "legend": null}
  }}
]},
{"title": {"text": "(i)", "subtitle": "CMIP5 Mean, 0-300m", "dx": 4.9, "encoding": {"dx": {"value": -89.3}}}, "width": 255, "height": 122, "layer": [
 {"data": {"name": "volc"}, "mark": {"type": "rule", "strokeDash": [9, 6], "strokeWidth": 1, "color": "#222"}, "encoding": {"x": {"field": "year", "type": "quantitative", "scale": {"domain": [1960, 2004], "nice": false, "zero": false}}}},
 {"data": {"name": "volc"}, "mark": {"type": "text", "angle": 270, "align": "right", "baseline": "bottom", "fontSize": 13, "color": "black"}, "encoding": {"x": {"field": "year", "type": "quantitative", "scale": {"domain": [1960, 2004], "nice": false, "zero": false}}, "y": {"datum": 0.305, "type": "quantitative", "scale": {"domain": [-0.107, 0.318], "nice": false, "zero": false}}, "text": {"field": "name"}}},
 {"data": {"name": "zero"}, "mark": {"type": "rule", "strokeDash": [9, 6], "strokeWidth": 1, "color": "#222"}, "encoding": {"y": {"field": "v", "type": "quantitative", "scale": {"domain": [-0.107, 0.318], "nice": false, "zero": false}}}},
 {"data": {"name": "i"}, "transform": [{"fold": ["Full-Field", "Sub-Sample"], "as": ["series", "v"]}], "mark": {"type": "line", "strokeWidth": 1.8, "clip": true},
  "encoding": {
   "x": {"field": "year", "type": "quantitative", "scale": {"domain": [1960, 2004], "nice": false, "zero": false}, "axis": {"title": "Time [yr]", "values": [1960, 1970, 1980, 1990, 2000], "tickCount": 20, "format": "d", "labelFlush": false, "labelOverlap": false}},
   "y": {"field": "v", "type": "quantitative", "scale": {"domain": [-0.107, 0.318], "nice": false, "zero": false}, "axis": {"title": "Temp. Change [K]", "values": [-0.1, 0, 0.1, 0.2, 0.3], "tickCount": 20, "format": ".1f", "labelFlush": false, "labelOverlap": false}},
   "color": {"field": "series", "type": "nominal", "scale": {"domain": ["Full-Field", "Sub-Sample"], "range": ["black", "red"]}, "legend": null}
  }}
]},
{"title": {"text": "(j)", "subtitle": "CMIP5 Mean, 300-2000m", "dx": 4.9, "encoding": {"dx": {"value": -102.5}}}, "width": 255, "height": 122, "layer": [
 {"data": {"name": "volc"}, "mark": {"type": "rule", "strokeDash": [9, 6], "strokeWidth": 1, "color": "#222"}, "encoding": {"x": {"field": "year", "type": "quantitative", "scale": {"domain": [1960, 2004], "nice": false, "zero": false}}}},
 {"data": {"name": "volc"}, "mark": {"type": "text", "angle": 270, "align": "right", "baseline": "bottom", "fontSize": 13, "color": "black"}, "encoding": {"x": {"field": "year", "type": "quantitative", "scale": {"domain": [1960, 2004], "nice": false, "zero": false}}, "y": {"datum": 0.1015, "type": "quantitative", "scale": {"domain": [-0.05, 0.106], "nice": false, "zero": false}}, "text": {"field": "name"}}},
 {"data": {"name": "zero"}, "mark": {"type": "rule", "strokeDash": [9, 6], "strokeWidth": 1, "color": "#222"}, "encoding": {"y": {"field": "v", "type": "quantitative", "scale": {"domain": [-0.05, 0.106], "nice": false, "zero": false}}}},
 {"data": {"name": "j"}, "transform": [{"fold": ["Full-Field", "Sub-Sample"], "as": ["series", "v"]}], "mark": {"type": "line", "strokeWidth": 1.8, "clip": true},
  "encoding": {
   "x": {"field": "year", "type": "quantitative", "scale": {"domain": [1960, 2004], "nice": false, "zero": false}, "axis": {"title": "Time [yr]", "values": [1960, 1970, 1980, 1990, 2000], "tickCount": 20, "format": "d", "labelFlush": false, "labelOverlap": false}},
   "y": {"field": "v", "type": "quantitative", "scale": {"domain": [-0.05, 0.106], "nice": false, "zero": false}, "axis": {"title": "Temp. Change [K]", "values": [-0.04, -0.02, 0, 0.02, 0.04, 0.06, 0.08, 0.1], "tickCount": 20, "format": ".2f", "labelFlush": false, "labelOverlap": false}},
   "color": {"field": "series", "type": "nominal", "scale": {"domain": ["Full-Field", "Sub-Sample"], "range": ["black", "red"]}, "legend": null}
  }}
]}
]
}
